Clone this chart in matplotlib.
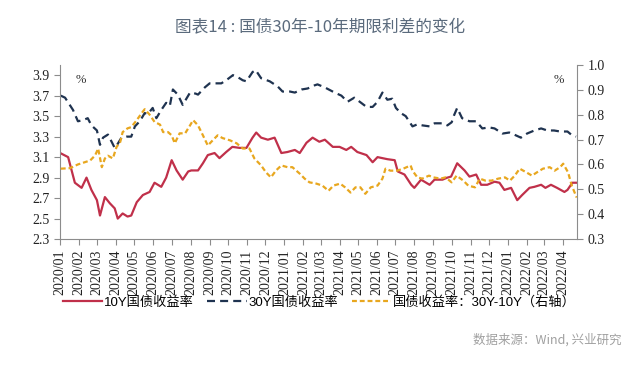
import pandas as pd
import matplotlib.pyplot as plt
import matplotlib.dates as mdates

plt.rcParams['font.family'] = ['Liberation Serif', 'Noto Sans CJK SC']

# 10Y government bond yield (%), left axis
y10_dates = ['2020-01-01', '2020-01-14', '2020-01-25', '2020-02-05', '2020-02-13', '2020-02-21',
             '2020-03-01', '2020-03-06', '2020-03-14', '2020-03-22', '2020-03-30', '2020-04-04',
             '2020-04-12', '2020-04-20', '2020-04-26', '2020-05-05', '2020-05-15', '2020-05-26',
             '2020-06-03', '2020-06-14', '2020-06-22', '2020-07-01', '2020-07-09', '2020-07-19',
             '2020-07-28', '2020-08-02', '2020-08-13', '2020-08-21', '2020-08-29', '2020-09-09',
             '2020-09-17', '2020-09-28', '2020-10-08', '2020-10-20', '2020-10-31', '2020-11-10',
             '2020-11-16', '2020-11-24', '2020-12-05', '2020-12-16', '2020-12-27', '2021-01-06',
             '2021-01-18', '2021-01-26', '2021-02-06', '2021-02-16', '2021-02-27', '2021-03-08',
             '2021-03-21', '2021-04-01', '2021-04-12', '2021-04-20', '2021-04-30', '2021-05-15',
             '2021-05-25', '2021-06-02', '2021-06-10', '2021-06-18', '2021-06-30', '2021-07-05',
             '2021-07-16', '2021-07-27', '2021-08-01', '2021-08-12', '2021-08-26', '2021-09-03',
             '2021-09-16', '2021-09-24', '2021-09-30', '2021-10-10', '2021-10-22', '2021-10-30',
             '2021-11-10', '2021-11-18', '2021-11-28', '2021-12-10', '2021-12-18', '2021-12-26',
             '2022-01-06', '2022-01-16', '2022-01-24', '2022-02-05', '2022-02-13', '2022-02-24',
             '2022-03-03', '2022-03-12', '2022-03-22', '2022-04-03', '2022-04-08', '2022-04-16',
             '2022-04-22']
y10 = [3.14, 3.10, 2.85, 2.80, 2.90, 2.78,
       2.68, 2.53, 2.71, 2.65, 2.60, 2.50,
       2.55, 2.52, 2.53, 2.66, 2.73, 2.76,
       2.85, 2.81, 2.90, 3.07, 2.97, 2.88,
       2.96, 2.97, 2.97, 3.04, 3.12, 3.14,
       3.09, 3.15, 3.20, 3.19, 3.19, 3.29,
       3.34, 3.29, 3.27, 3.29, 3.14, 3.15,
       3.17, 3.14, 3.24, 3.29, 3.25, 3.27,
       3.20, 3.20, 3.17, 3.20, 3.15, 3.12,
       3.05, 3.10, 3.09, 3.08, 3.07, 2.96,
       2.93, 2.83, 2.80, 2.88, 2.83, 2.88,
       2.88, 2.90, 2.91, 3.04, 2.97, 2.91,
       2.93, 2.83, 2.83, 2.86, 2.85, 2.78,
       2.80, 2.68, 2.73, 2.80, 2.81, 2.83,
       2.80, 2.83, 2.80, 2.76, 2.78, 2.85,
       2.85]

# 30Y government bond yield (%), left axis
y30_dates = ['2020-01-02', '2020-01-09', '2020-01-22', '2020-01-30', '2020-02-07', '2020-02-15',
             '2020-02-21', '2020-03-01', '2020-03-06', '2020-03-11', '2020-03-19', '2020-03-25',
             '2020-03-30', '2020-04-04', '2020-04-10', '2020-04-18', '2020-04-26', '2020-05-02',
             '2020-05-10', '2020-05-18', '2020-05-23', '2020-05-31', '2020-06-06', '2020-06-14',
             '2020-06-22', '2020-06-28', '2020-07-03', '2020-07-11', '2020-07-19', '2020-07-27',
             '2020-07-31', '2020-08-09', '2020-08-13', '2020-08-24', '2020-09-01', '2020-09-11',
             '2020-09-20', '2020-09-28', '2020-10-09', '2020-10-17', '2020-10-25', '2020-10-31',
             '2020-11-10', '2020-11-15', '2020-11-24', '2020-12-08', '2020-12-21', '2020-12-29',
             '2021-01-10', '2021-01-18', '2021-01-29', '2021-02-08', '2021-02-19', '2021-02-24',
             '2021-03-08', '2021-03-24', '2021-04-04', '2021-04-14', '2021-04-25', '2021-05-04',
             '2021-05-15', '2021-05-25', '2021-06-02', '2021-06-10', '2021-06-18', '2021-06-26',
             '2021-07-02', '2021-07-10', '2021-07-18', '2021-07-29', '2021-08-06', '2021-08-14',
             '2021-08-26', '2021-09-03', '2021-09-16', '2021-09-24', '2021-10-01', '2021-10-05',
             '2021-10-10', '2021-10-18', '2021-10-30', '2021-11-10', '2021-11-20', '2021-12-01',
             '2021-12-10', '2021-12-23', '2022-01-03', '2022-01-11', '2022-01-22', '2022-02-01',
             '2022-02-13', '2022-02-24', '2022-03-06', '2022-03-17', '2022-03-27', '2022-04-08',
             '2022-04-14', '2022-04-22']
y30 = [3.70, 3.68, 3.56, 3.45, 3.46, 3.48,
       3.41, 3.36, 3.22, 3.29, 3.32, 3.25,
       3.19, 3.23, 3.29, 3.30, 3.30, 3.40,
       3.45, 3.53, 3.52, 3.58, 3.48, 3.56,
       3.63, 3.60, 3.76, 3.71, 3.61, 3.69,
       3.73, 3.72, 3.71, 3.78, 3.82, 3.82,
       3.82, 3.85, 3.90, 3.88, 3.85, 3.84,
       3.93, 3.95, 3.87, 3.84, 3.79, 3.74,
       3.74, 3.73, 3.76, 3.77, 3.80, 3.81,
       3.78, 3.73, 3.70, 3.64, 3.68, 3.64,
       3.59, 3.59, 3.64, 3.73, 3.66, 3.67,
       3.58, 3.53, 3.50, 3.40, 3.42, 3.41,
       3.40, 3.43, 3.43, 3.41, 3.44, 3.51,
       3.58, 3.48, 3.45, 3.45, 3.38, 3.39,
       3.38, 3.33, 3.34, 3.32, 3.29, 3.33,
       3.36, 3.38, 3.36, 3.36, 3.35, 3.35,
       3.32, 3.30]

# 30Y-10Y spread (%), right axis
spread_dates = ['2020-01-02', '2020-01-17', '2020-01-30', '2020-02-19', '2020-02-27', '2020-03-03',
                '2020-03-09', '2020-03-14', '2020-03-19', '2020-03-27', '2020-04-02', '2020-04-08',
                '2020-04-12', '2020-04-20', '2020-04-26', '2020-05-05', '2020-05-13', '2020-05-18',
                '2020-05-26', '2020-06-03', '2020-06-12', '2020-06-17', '2020-06-25', '2020-07-01',
                '2020-07-06', '2020-07-14', '2020-07-23', '2020-07-31', '2020-08-05', '2020-08-13',
                '2020-08-21', '2020-08-29', '2020-09-06', '2020-09-14', '2020-09-22', '2020-10-04',
                '2020-10-15', '2020-10-25', '2020-11-05', '2020-11-13', '2020-11-24', '2020-12-02',
                '2020-12-10', '2020-12-18', '2020-12-27', '2021-01-06', '2021-01-14', '2021-01-26',
                '2021-02-03', '2021-02-11', '2021-02-22', '2021-03-04', '2021-03-14', '2021-03-22',
                '2021-04-02', '2021-04-10', '2021-04-19', '2021-04-27', '2021-05-05', '2021-05-13',
                '2021-05-22', '2021-06-02', '2021-06-10', '2021-06-15', '2021-06-23', '2021-07-04',
                '2021-07-14', '2021-07-26', '2021-07-29', '2021-08-06', '2021-08-14', '2021-08-25',
                '2021-09-01', '2021-09-13', '2021-09-21', '2021-10-01', '2021-10-09', '2021-10-20',
                '2021-10-28', '2021-11-08', '2021-11-16', '2021-11-25', '2021-12-05', '2021-12-16',
                '2021-12-27', '2022-01-04', '2022-01-12', '2022-01-20', '2022-01-31', '2022-02-09',
                '2022-02-17', '2022-02-27', '2022-03-10', '2022-03-18', '2022-03-27', '2022-04-01',
                '2022-04-09', '2022-04-15', '2022-04-23']
spread = [0.583, 0.585, 0.600, 0.616, 0.636, 0.664,
          0.589, 0.624, 0.635, 0.624, 0.670, 0.690,
          0.730, 0.745, 0.750, 0.778, 0.806, 0.822,
          0.800, 0.771, 0.760, 0.730, 0.730, 0.717,
          0.685, 0.725, 0.725, 0.757, 0.778, 0.757,
          0.717, 0.676, 0.697, 0.717, 0.706, 0.697,
          0.685, 0.664, 0.664, 0.624, 0.596, 0.568,
          0.548, 0.575, 0.596, 0.589, 0.589, 0.563,
          0.543, 0.528, 0.523, 0.515, 0.494, 0.515,
          0.523, 0.508, 0.487, 0.508, 0.508, 0.482,
          0.508, 0.515, 0.543, 0.583, 0.575, 0.575,
          0.583, 0.596, 0.575, 0.548, 0.543, 0.555,
          0.548, 0.543, 0.548, 0.528, 0.555, 0.535,
          0.515, 0.508, 0.543, 0.535, 0.535, 0.543,
          0.548, 0.535, 0.555, 0.583, 0.568, 0.555,
          0.568, 0.583, 0.589, 0.575, 0.589, 0.603,
          0.568, 0.515, 0.467]

red = '#c0304a'
navy = '#1f3350'
gold = '#e8a71f'
spine_c = '#8c8c8c'

fig = plt.figure(figsize=(6.4, 3.73), dpi=100)
ax = fig.add_axes([0.094, 0.359, 0.808, 0.467])
ax2 = ax.twinx()

ax.plot(pd.to_datetime(y10_dates), y10, color=red, lw=1.6, label='10Y国债收益率')
ax.plot(pd.to_datetime(y30_dates), y30, color=navy, lw=1.6, dashes=(3.6, 2.3),
        label='30Y国债收益率')
ax2.plot(pd.to_datetime(spread_dates), spread, color=gold, lw=1.6, dashes=(2.2, 1.3),
         label='国债收益率：30Y-10Y（右轴）')

ax.set_ylim(2.3, 4.0)
ax.set_yticks([2.3, 2.5, 2.7, 2.9, 3.1, 3.3, 3.5, 3.7, 3.9])
ax2.set_ylim(0.3, 1.0)
ax2.set_yticks([0.3, 0.4, 0.5, 0.6, 0.7, 0.8, 0.9, 1.0])
ax.set_xlim(pd.Timestamp('2020-01-01'), pd.Timestamp('2022-04-24'))
ax.xaxis.set_major_locator(mdates.MonthLocator())
ax.xaxis.set_major_formatter(mdates.DateFormatter('%Y/%m'))
for lbl in ax.get_xticklabels():
    lbl.set_rotation(90)

for a in (ax, ax2):
    a.spines['top'].set_visible(False)
    for s in ('left', 'right', 'bottom'):
        a.spines[s].set_color(spine_c)
    a.tick_params(colors=spine_c, labelcolor='#222222', labelsize=10, length=4)
ax.spines['right'].set_visible(False)
ax2.spines['left'].set_visible(False)
ax2.spines['bottom'].set_visible(False)

ax.text(0.03, 0.95, '%', transform=ax.transAxes, fontsize=9, color='#333333', va='top')
ax2.text(0.955, 0.95, '%', transform=ax.transAxes, fontsize=9, color='#333333', va='top')

h1, l1 = ax.get_legend_handles_labels()
h2, l2 = ax2.get_legend_handles_labels()
fig.legend(h1 + h2, l1 + l2, loc='center', bbox_to_anchor=(0.499, 0.19), ncol=3,
           frameon=False, handlelength=3.0, columnspacing=1.0, handletextpad=0.15,
           prop={'family': ['Liberation Sans', 'Noto Sans CJK SC'], 'size': 9.5})

fig.text(0.5, 0.925, '图表14 : 国债30年-10年期限利差的变化', ha='center', va='center',
         fontsize=12, color='#5b6b7d', family=['Noto Sans CJK SC'], weight='medium')
fig.text(0.972, 0.088, '数据来源：Wind, 兴业研究', ha='right', va='center',
         fontsize=9, color='#a0a0a0', family=['Noto Sans CJK SC'])

fig.savefig('out.png', dpi=100, facecolor='white')
